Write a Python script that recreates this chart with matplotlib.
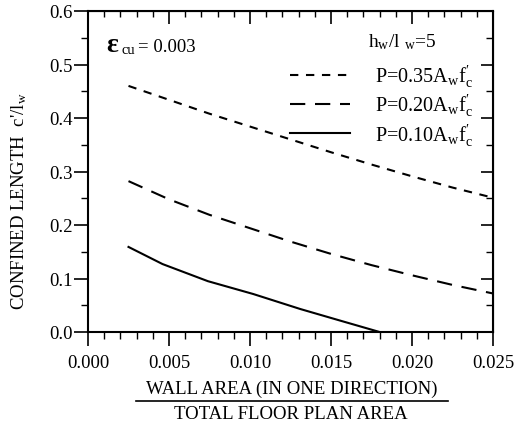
import matplotlib
matplotlib.use("Agg")
import matplotlib.pyplot as plt
from matplotlib.lines import Line2D
from matplotlib.ticker import MultipleLocator, FormatStrFormatter

plt.rcParams['font.family'] = ['Liberation Serif', 'DejaVu Serif']
plt.rcParams['mathtext.fontset'] = 'custom'
plt.rcParams['mathtext.rm'] = 'Liberation Serif'
plt.rcParams['mathtext.it'] = 'Liberation Serif:italic'
plt.rcParams['lines.scale_dashes'] = False

# Data
x_35 = [0.0025, 0.005, 0.0075, 0.010, 0.0125, 0.015, 0.0175, 0.020, 0.0225, 0.025]
y_35 = [0.460, 0.434, 0.408, 0.384, 0.360, 0.336, 0.313, 0.291, 0.270, 0.251]

x_20 = [0.0025, 0.005, 0.0075, 0.010, 0.0125, 0.015, 0.0175, 0.020, 0.0225, 0.025]
y_20 = [0.282, 0.248, 0.219, 0.194, 0.169, 0.146, 0.125, 0.106, 0.088, 0.072]

x_10 = [0.0025, 0.0046, 0.0074, 0.0102, 0.0131, 0.0156, 0.0172, 0.0180]
y_10 = [0.159, 0.127, 0.095, 0.071, 0.043, 0.021, 0.007, 0.0]

labels = [r'P=0.35A$_\mathregular{w}$f$\mathregular{^{\prime}_c}$',
          r'P=0.20A$_\mathregular{w}$f$\mathregular{^{\prime}_c}$',
          r'P=0.10A$_\mathregular{w}$f$\mathregular{^{\prime}_c}$']

W, H = 521, 431
fig = plt.figure(figsize=(W / 100, H / 100), dpi=100)
ax = fig.add_axes([88 / W, 1 - 333 / H, (493 - 88) / W, (333 - 12) / H])

ax.plot(x_35, y_35, color='black', lw=1.5, linestyle=(0, (6, 5.5)), label=labels[0])
ax.plot(x_20, y_20, color='black', lw=1.5, linestyle=(0, (11, 7)), label=labels[1])
ax.plot(x_10, y_10, color='black', lw=1.5, linestyle='-', label=labels[2])

ax.set_xlim(0, 0.025)
ax.set_ylim(0, 0.6)
ax.xaxis.set_major_locator(MultipleLocator(0.005))
ax.xaxis.set_minor_locator(MultipleLocator(0.001))
ax.yaxis.set_major_locator(MultipleLocator(0.1))
ax.yaxis.set_minor_locator(MultipleLocator(0.05))
ax.xaxis.set_major_formatter(FormatStrFormatter('%.3f'))
ax.yaxis.set_major_formatter(FormatStrFormatter('%.1f'))

# bottom / left ticks point outward
ax.tick_params(which='major', direction='out', length=10, width=1.2, labelsize=13.5)
ax.tick_params(which='minor', direction='out', length=5, width=1.0)
ax.tick_params(axis='x', which='major', pad=6)
ax.tick_params(axis='y', which='major', pad=1)
for s in ax.spines.values():
    s.set_linewidth(1.5)

# top / right ticks point inward
top = ax.secondary_xaxis('top')
top.xaxis.set_major_locator(MultipleLocator(0.005))
top.xaxis.set_minor_locator(MultipleLocator(0.001))
top.tick_params(which='major', direction='in', length=9, width=1.2, labeltop=False)
top.tick_params(which='minor', direction='in', length=4, width=1.0)
right = ax.secondary_yaxis('right')
right.yaxis.set_major_locator(MultipleLocator(0.1))
right.yaxis.set_minor_locator(MultipleLocator(0.05))
right.tick_params(which='major', direction='in', length=9, width=1.2, labelright=False)
right.tick_params(which='minor', direction='in', length=5, width=1.0)

ax.set_ylabel(r"CONFINED LENGTH  c'/l$_\mathregular{w}$", fontsize=13.5)
ax.yaxis.set_label_coords(-0.145, 0.41)

# fraction-style x label
fig.text(292 / W, 1 - 389 / H, 'WALL AREA (IN ONE DIRECTION)', ha='center', va='center', fontsize=13.5)
fig.add_artist(Line2D([136 / W, 448 / W], [1 - 402 / H, 1 - 402 / H],
                      transform=fig.transFigure, color='black', lw=1.2))
fig.text(291 / W, 1 - 415 / H, 'TOTAL FLOOR PLAN AREA', ha='center', va='center', fontsize=13.5)

# strain annotation
fig.text(106 / W, 1 - 46 / H, 'ε', ha='left', va='center', fontsize=20, fontweight='bold')
fig.text(122 / W, 1 - 51 / H, 'cu', ha='left', va='center', fontsize=10.5)
fig.text(138 / W, 1 - 47 / H, '= 0.003', ha='left', va='center', fontsize=13.5)

fig.text(368 / W, 1 - 42 / H, r'h$_\mathregular{w}$/l $_\mathregular{w}$=5', ha='left', va='center', fontsize=14)

ax.legend(loc='upper left', bbox_to_anchor=(290 / W, 1 - 64 / H), bbox_transform=fig.transFigure,
          frameon=False, fontsize=14.5, handlelength=3.0, handletextpad=1.2,
          borderpad=0, borderaxespad=0, labelspacing=0.15)

fig.savefig('out.png', dpi=100)
